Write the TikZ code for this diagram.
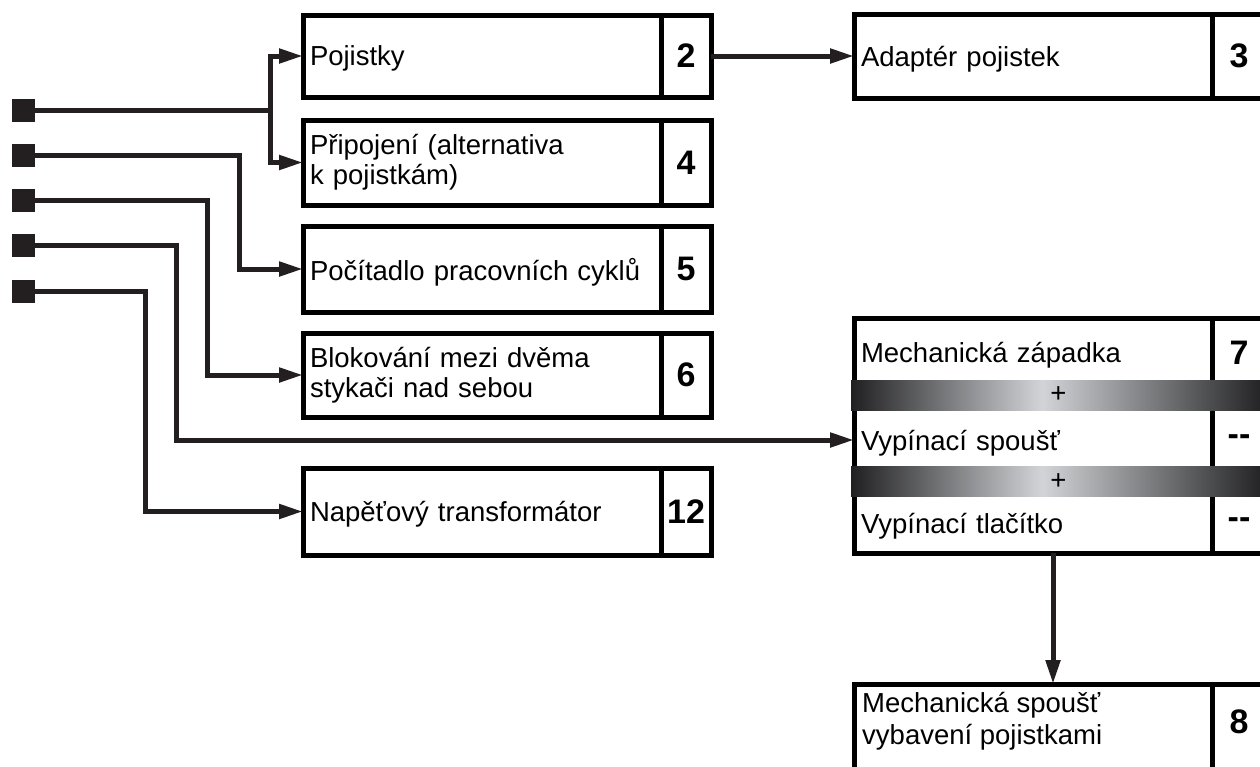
\documentclass[tikz,border=0pt]{standalone}
\usepackage{fontspec}
\setmainfont{Liberation Sans}
\usetikzlibrary{arrows.meta, positioning, calc}
\definecolor{ink}{RGB}{35,31,32}
\definecolor{bardark}{RGB}{32,32,34}
\definecolor{barlight}{RGB}{210,212,215}
\pgfdeclarehorizontalshading{barshade}{100bp}{color(0bp)=(bardark); color(25bp)=(bardark); color(48bp)=(barlight); color(75bp)=(bardark); color(100bp)=(bardark)}
\tikzset{
    cell/.style={draw=black, line width=5pt, outer sep=0pt, inner sep=0pt},
    textcell/.style={cell, minimum width=358pt, text width=344pt, align=left, minimum height=#1, font=\fontsize{27.5}{30}\selectfont},
    oneline/.style={text depth=0pt},
    numcell/.style={cell, minimum width=50pt, minimum height=#1, font=\fontsize{34}{40}\selectfont\bfseries},
    celltext/.style={inner sep=0pt, align=left, font=\fontsize{27.5}{32}\selectfont},
    terminal/.style={fill=ink, minimum size=23pt, inner sep=0pt},
    wire/.style={draw=ink, line width=5pt},
    feed/.style={wire, -{Triangle[length=24pt, width=14pt]}},
    plusbar/.style={shade, shading=barshade, minimum width=415pt, minimum height=30pt, inner sep=0pt, font=\fontsize{27.5}{30}\selectfont},
}

\begin{document}
\begin{tikzpicture}[x=1pt, y=-1pt]
    \useasboundingbox (0,0) rectangle (1260,766);
    \clip (0,0) rectangle (1260,766);

    % terminals on the left
    \node[terminal] (term1) at (23.5,110) {};
    \node[terminal] (term2) at (23.5,155) {};
    \node[terminal] (term3) at (23.5,200) {};
    \node[terminal] (term4) at (23.5,245) {};
    \node[terminal] (term5) at (23.5,291) {};

    % left column
    \node[textcell=82pt, oneline] (pojistky) at (482,56) {Pojistky};
    \node[numcell=82pt] (num_pojistky) at ($(pojistky.east)+(25,0)$) {2};

    \node[textcell=85pt] (pripojeni) at (482,162.5) {Připojení (alternativa\\k pojistkám)};
    \node[numcell=85pt] (num_pripojeni) at ($(pripojeni.east)+(25,0)$) {4};

    \node[textcell=86pt, oneline] (pocitadlo) at (482,269) {Počítadlo pracovních cyklů};
    \node[numcell=86pt] (num_pocitadlo) at ($(pocitadlo.east)+(25,0)$) {5};

    \node[textcell=84pt] (blokovani) at (482,375) {Blokování mezi dvěma\\stykači nad sebou};
    \node[numcell=84pt] (num_blokovani) at ($(blokovani.east)+(25,0)$) {6};

    \node[textcell=87pt, oneline] (transformator) at (482,511.5) {Napěťový transformátor};
    \node[numcell=87pt] (num_transformator) at ($(transformator.east)+(25,0)$) {12};

    % right column
    \node[textcell=84pt, oneline] (adapter) at (1033,56) {Adaptér pojistek};
    \node[numcell=84pt, minimum width=54pt] (num_adapter) at ($(adapter.east)+(27,0)$) {3};

    \node[textcell=69pt, oneline] (zapadka) at (1033,352.5) {Mechanická západka};
    \node[numcell=69pt, minimum width=54pt] (num_zapadka) at ($(zapadka.east)+(27,0)$) {7};
    \node[textcell=106pt, oneline] (spoust) at (1033,440) {Vypínací spoušť};
    \node[numcell=106pt, minimum width=54pt] (num_spoust) at ($(spoust.east)+(27,0)$) {-{}-};
    \node[textcell=60pt, oneline] (tlacitko) at (1033,523) {Vypínací tlačítko};
    \node[numcell=60pt, minimum width=54pt] (num_tlacitko) at ($(tlacitko.east)+(27,0)$) {-{}-};

    \node[plusbar] (bar1) at (1058.5,395) {+};
    \node[plusbar] (bar2) at (1058.5,481.5) {+};

    \node[textcell=130pt, anchor=north] (mech_spoust) at (1033,684) {};
    \node[numcell=130pt, minimum width=54pt, anchor=north] (num_mech_spoust) at ($(mech_spoust.north east)+(27,0)$) {};
    \node[celltext, anchor=west] (mech_spoust_text) at ($(mech_spoust.north west)+(8,37)$) {Mechanická spoušť\\vybavení pojistkami};
    \node[celltext, font=\fontsize{34}{40}\selectfont\bfseries] (num_mech_spoust_text) at ($(num_mech_spoust.north)+(0,38)$) {8};

    % connectors
    \coordinate (fork) at (270,110);
    \coordinate (k2) at (239,155);
    \coordinate (k3) at (207,200);
    \coordinate (k4) at (176,245);
    \coordinate (k5) at (145,291);

    \draw[wire] (term1.east) -- (fork);
    \draw[feed] (fork) |- (pojistky.west);
    \draw[feed] (fork) |- (pripojeni.west);
    \draw[feed] (term2.east) -- (k2) |- (pocitadlo.west);
    \draw[feed] (term3.east) -- (k3) |- (blokovani.west);
    \draw[feed] (term4.east) -- (k4) |- (spoust.west);
    \draw[feed] (term5.east) -- (k5) |- (transformator.west);

    \draw[feed] (num_pojistky.east) -- (adapter.west);
    \draw[feed] ($(tlacitko.south)+(20,0)$) -- ($(mech_spoust.north)+(20,0)$);
\end{tikzpicture}
\end{document}
